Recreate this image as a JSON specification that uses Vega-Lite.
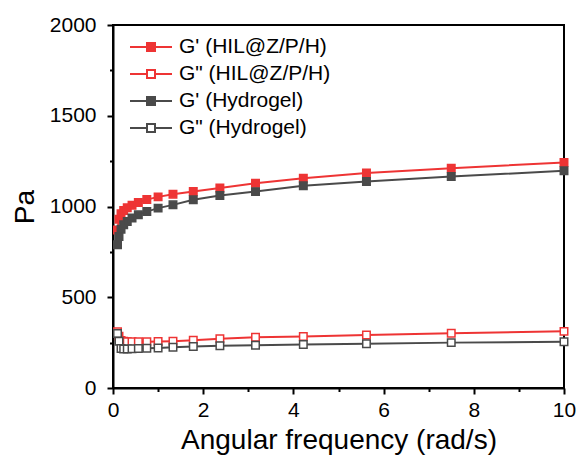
{
  "$schema": "https://vega.github.io/schema/vega-lite/v6.json",
  "width": 451,
  "height": 363,
  "autosize": "none",
  "padding": {"left": 113, "top": 25, "right": 18, "bottom": 74},
  "background": "white",
  "config": {
    "font": "Liberation Sans",
    "view": {"stroke": "black", "strokeWidth": 2}
  },
  "datasets": {
    "rheo": [
      {"w": 0.1, "s": "G' (HIL@Z/P/H)", "v": 870},
      {"w": 0.133, "s": "G' (HIL@Z/P/H)", "v": 930},
      {"w": 0.178, "s": "G' (HIL@Z/P/H)", "v": 960},
      {"w": 0.237, "s": "G' (HIL@Z/P/H)", "v": 978},
      {"w": 0.316, "s": "G' (HIL@Z/P/H)", "v": 993},
      {"w": 0.422, "s": "G' (HIL@Z/P/H)", "v": 1007},
      {"w": 0.562, "s": "G' (HIL@Z/P/H)", "v": 1022},
      {"w": 0.75, "s": "G' (HIL@Z/P/H)", "v": 1038},
      {"w": 1.0, "s": "G' (HIL@Z/P/H)", "v": 1053},
      {"w": 1.33, "s": "G' (HIL@Z/P/H)", "v": 1068},
      {"w": 1.78, "s": "G' (HIL@Z/P/H)", "v": 1083},
      {"w": 2.37, "s": "G' (HIL@Z/P/H)", "v": 1102},
      {"w": 3.16, "s": "G' (HIL@Z/P/H)", "v": 1128},
      {"w": 4.22, "s": "G' (HIL@Z/P/H)", "v": 1156},
      {"w": 5.62, "s": "G' (HIL@Z/P/H)", "v": 1184},
      {"w": 7.5, "s": "G' (HIL@Z/P/H)", "v": 1211},
      {"w": 10, "s": "G' (HIL@Z/P/H)", "v": 1242},
      {"w": 0.1, "s": "G\" (HIL@Z/P/H)", "v": 310},
      {"w": 0.133, "s": "G\" (HIL@Z/P/H)", "v": 285},
      {"w": 0.178, "s": "G\" (HIL@Z/P/H)", "v": 262},
      {"w": 0.237, "s": "G\" (HIL@Z/P/H)", "v": 257},
      {"w": 0.316, "s": "G\" (HIL@Z/P/H)", "v": 255},
      {"w": 0.422, "s": "G\" (HIL@Z/P/H)", "v": 255},
      {"w": 0.562, "s": "G\" (HIL@Z/P/H)", "v": 255},
      {"w": 0.75, "s": "G\" (HIL@Z/P/H)", "v": 255},
      {"w": 1.0, "s": "G\" (HIL@Z/P/H)", "v": 256},
      {"w": 1.33, "s": "G\" (HIL@Z/P/H)", "v": 258},
      {"w": 1.78, "s": "G\" (HIL@Z/P/H)", "v": 263},
      {"w": 2.37, "s": "G\" (HIL@Z/P/H)", "v": 271},
      {"w": 3.16, "s": "G\" (HIL@Z/P/H)", "v": 279},
      {"w": 4.22, "s": "G\" (HIL@Z/P/H)", "v": 284},
      {"w": 5.62, "s": "G\" (HIL@Z/P/H)", "v": 292},
      {"w": 7.5, "s": "G\" (HIL@Z/P/H)", "v": 302},
      {"w": 10, "s": "G\" (HIL@Z/P/H)", "v": 312},
      {"w": 0.1, "s": "G' (Hydrogel)", "v": 789},
      {"w": 0.133, "s": "G' (Hydrogel)", "v": 835},
      {"w": 0.178, "s": "G' (Hydrogel)", "v": 875},
      {"w": 0.237, "s": "G' (Hydrogel)", "v": 899},
      {"w": 0.316, "s": "G' (Hydrogel)", "v": 917},
      {"w": 0.422, "s": "G' (Hydrogel)", "v": 936},
      {"w": 0.562, "s": "G' (Hydrogel)", "v": 954},
      {"w": 0.75, "s": "G' (Hydrogel)", "v": 972},
      {"w": 1.0, "s": "G' (Hydrogel)", "v": 991},
      {"w": 1.33, "s": "G' (Hydrogel)", "v": 1009},
      {"w": 1.78, "s": "G' (Hydrogel)", "v": 1037},
      {"w": 2.37, "s": "G' (Hydrogel)", "v": 1061},
      {"w": 3.16, "s": "G' (Hydrogel)", "v": 1082},
      {"w": 4.22, "s": "G' (Hydrogel)", "v": 1114},
      {"w": 5.62, "s": "G' (Hydrogel)", "v": 1138},
      {"w": 7.5, "s": "G' (Hydrogel)", "v": 1165},
      {"w": 10, "s": "G' (Hydrogel)", "v": 1197},
      {"w": 0.1, "s": "G\" (Hydrogel)", "v": 300},
      {"w": 0.133, "s": "G\" (Hydrogel)", "v": 257},
      {"w": 0.178, "s": "G\" (Hydrogel)", "v": 218},
      {"w": 0.237, "s": "G\" (Hydrogel)", "v": 215},
      {"w": 0.316, "s": "G\" (Hydrogel)", "v": 215},
      {"w": 0.422, "s": "G\" (Hydrogel)", "v": 216},
      {"w": 0.562, "s": "G\" (Hydrogel)", "v": 217},
      {"w": 0.75, "s": "G\" (Hydrogel)", "v": 219},
      {"w": 1.0, "s": "G\" (Hydrogel)", "v": 221},
      {"w": 1.33, "s": "G\" (Hydrogel)", "v": 224},
      {"w": 1.78, "s": "G\" (Hydrogel)", "v": 229},
      {"w": 2.37, "s": "G\" (Hydrogel)", "v": 233},
      {"w": 3.16, "s": "G\" (Hydrogel)", "v": 236},
      {"w": 4.22, "s": "G\" (Hydrogel)", "v": 240},
      {"w": 5.62, "s": "G\" (Hydrogel)", "v": 244},
      {"w": 7.5, "s": "G\" (Hydrogel)", "v": 250},
      {"w": 10, "s": "G\" (Hydrogel)", "v": 255}
    ]
  },
  "data": {"name": "rheo"},
  "encoding": {
    "x": {
      "field": "w",
      "type": "quantitative",
      "scale": {"domain": [0, 10], "nice": false, "zero": false},
      "axis": {
        "title": "Angular frequency (rad/s)",
        "values": [0, 1, 2, 3, 4, 5, 6, 7, 8, 9, 10],
        "labelExpr": "datum.value % 2 === 0 ? datum.label : ''",
        "tickSize": {"expr": "datum.value % 2 === 0 ? 6 : 3.5"},
        "labelOverlap": false,
        "labelFlush": false,
        "grid": false,
        "domainColor": "black",
        "domainWidth": 2,
        "tickColor": "black",
        "tickWidth": 2,
        "labelColor": "black",
        "labelFontSize": 21,
        "labelPadding": 5,
        "titleColor": "black",
        "titleFontSize": 28,
        "titleFontWeight": "normal",
        "titlePadding": 6
      }
    },
    "y": {
      "field": "v",
      "type": "quantitative",
      "scale": {"domain": [0, 2000], "nice": false},
      "axis": {
        "title": "Pa",
        "values": [0, 250, 500, 750, 1000, 1250, 1500, 1750, 2000],
        "labelExpr": "datum.value % 500 === 0 ? datum.label : ''",
        "tickSize": {"expr": "datum.value % 500 === 0 ? 6 : 3.5"},
        "format": "d",
        "labelOverlap": false,
        "labelFlush": false,
        "grid": false,
        "domainColor": "black",
        "domainWidth": 2,
        "tickColor": "black",
        "tickWidth": 2,
        "labelColor": "black",
        "labelFontSize": 21,
        "labelPadding": 11,
        "titleColor": "black",
        "titleFontSize": 28,
        "titleFontWeight": "normal",
        "titlePadding": 10
      }
    },
    "stroke": {
      "field": "s",
      "type": "nominal",
      "scale": {
        "domain": ["G' (HIL@Z/P/H)", "G\" (HIL@Z/P/H)", "G' (Hydrogel)", "G\" (Hydrogel)"],
        "range": ["#ee3434", "#ee3434", "#4a4a4a", "#4a4a4a"]
      },
      "legend": {
        "title": null,
        "orient": "none",
        "legendX": 27,
        "legendY": 11,
        "padding": 0,
        "symbolType": "M-2.1,0H-0.4M0.4,0H2.1M-0.4,-0.4H0.4V0.4H-0.4Z",
        "symbolSize": 400,
        "symbolStrokeWidth": 2,
        "labelFontSize": 21,
        "labelColor": "black",
        "labelOffset": 17,
        "labelLimit": 400,
        "rowPadding": 6
      }
    }
  },
  "layer": [
    {"mark": {"type": "line", "strokeWidth": 2}},
    {
      "mark": {"type": "point", "shape": "square", "size": 56, "strokeWidth": 1.5, "opacity": 1, "filled": false},
      "encoding": {
        "fill": {
          "field": "s",
          "type": "nominal",
          "scale": {
            "domain": ["G' (HIL@Z/P/H)", "G\" (HIL@Z/P/H)", "G' (Hydrogel)", "G\" (Hydrogel)"],
            "range": ["#ee3434", "#ffffff", "#4a4a4a", "#ffffff"]
          },
          "legend": {
            "title": null,
            "orient": "none",
            "legendX": 27,
            "legendY": 11,
            "padding": 0,
            "symbolType": "M-2.1,0H-0.4M0.4,0H2.1M-0.4,-0.4H0.4V0.4H-0.4Z",
            "symbolSize": 400,
            "symbolStrokeWidth": 2,
            "labelFontSize": 21,
            "labelColor": "black",
            "labelOffset": 17,
            "labelLimit": 400,
            "rowPadding": 6
          }
        }
      }
    }
  ]
}
